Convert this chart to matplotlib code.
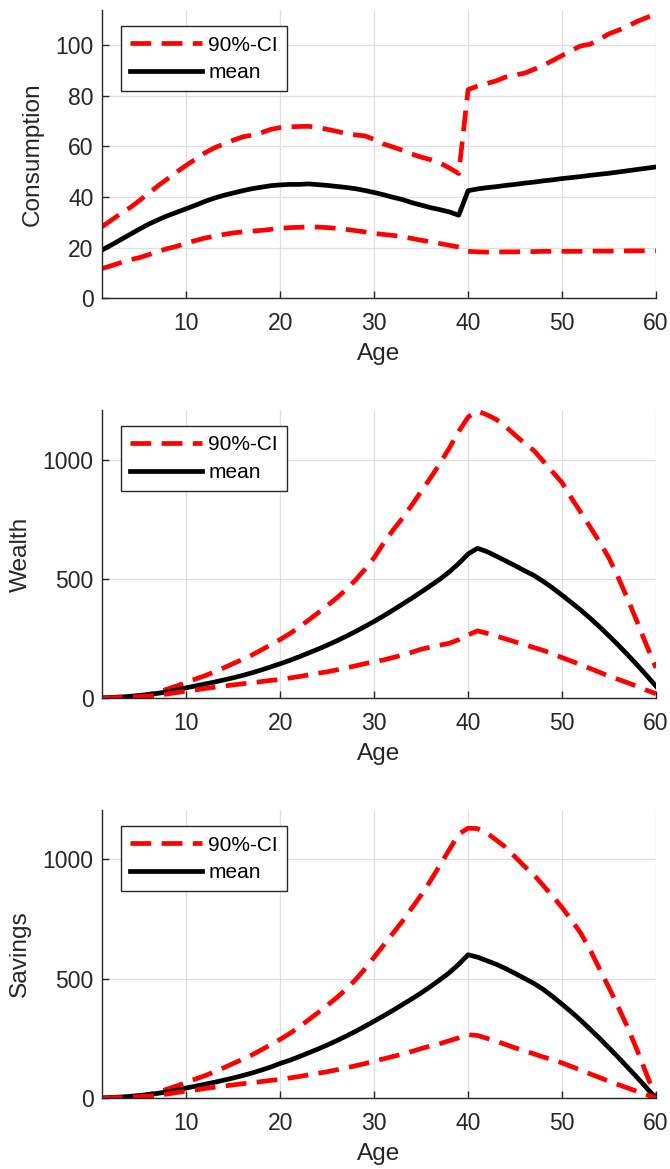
import numpy as np
import matplotlib
matplotlib.use('Agg')
import matplotlib.pyplot as plt

plt.rcParams['font.family'] = ['Liberation Sans', 'DejaVu Sans']

age = np.arange(1, 61)

# ── consumption ───────────────────────────────────────────────────────────────
cons_mean = [19.0, 21.0, 23.1, 25.2, 27.3, 29.3, 31.0, 32.6, 34.0, 35.4,
             36.8, 38.3, 39.6, 40.7, 41.6, 42.5, 43.3, 43.9, 44.5, 44.8,
             45.0, 45.0, 45.2, 44.9, 44.6, 44.2, 43.8, 43.3, 42.6, 41.8,
             40.9, 39.9, 39.0, 37.8, 36.8, 35.8, 35.0, 34.1, 32.8, 42.5,
             43.2, 43.7, 44.1, 44.6, 45.0, 45.5, 45.9, 46.4, 46.8, 47.3,
             47.7, 48.1, 48.6, 49.0, 49.4, 49.9, 50.4, 50.9, 51.4, 51.9]
cons_hi = [28.2, 30.8, 33.4, 35.8, 38.6, 41.5, 44.5, 47.2, 50.0, 52.6,
           55.0, 57.5, 59.5, 61.0, 62.5, 63.8, 64.5, 65.5, 66.8, 67.5,
           67.8, 67.9, 68.0, 67.5, 66.8, 66.0, 65.2, 64.6, 64.2, 62.8,
           61.0, 59.8, 58.5, 57.0, 55.8, 54.8, 53.5, 51.5, 49.3, 82.5,
           83.9, 84.9, 86.0, 87.5, 88.3, 89.0, 90.5, 92.1, 94.0, 96.0,
           98.0, 99.8, 100.5, 102.5, 104.6, 106.0, 107.6, 109.5, 111.0, 112.5]
cons_lo = [11.7, 12.8, 14.0, 15.2, 16.0, 17.2, 18.5, 19.6, 20.5, 21.8,
           22.8, 23.8, 24.5, 25.2, 25.8, 26.2, 26.5, 26.8, 27.2, 27.6,
           27.9, 28.0, 28.2, 28.1, 27.9, 27.6, 27.2, 26.7, 26.2, 25.6,
           25.2, 24.8, 24.3, 23.6, 22.9, 22.3, 21.6, 20.9, 20.2, 18.5,
           18.3, 18.2, 18.2, 18.3, 18.3, 18.4, 18.4, 18.5, 18.5, 18.5,
           18.5, 18.5, 18.6, 18.6, 18.6, 18.6, 18.7, 18.7, 18.7, 18.7]

# ── wealth ────────────────────────────────────────────────────────────────────
wealth_mean = [0, 2, 4, 7, 11, 15, 20, 26, 34, 43,
               51, 59, 67, 76, 85, 95, 106, 118, 131, 144,
               158, 173, 189, 205, 222, 240, 259, 279, 300, 322,
               345, 369, 394, 419, 445, 472, 499, 530, 565, 605,
               629, 615, 596, 576, 556, 535, 515, 490, 462, 432,
               401, 369, 335, 299, 261, 222, 181, 139, 95, 50]
wealth_hi = [0, 2, 4, 6, 8, 14, 25, 38, 51, 66,
             80, 94, 110, 127, 145, 162, 181, 202, 224, 246,
             270, 297, 327, 357, 388, 420, 455, 495, 540, 590,
             650, 705, 755, 810, 868, 925, 985, 1050, 1120, 1180,
             1205, 1190, 1170, 1140, 1105, 1070, 1040, 995, 950, 905,
             840, 780, 718, 655, 588, 505, 415, 320, 222, 127]
wealth_lo = [0, 1, 2, 4, 6, 8, 12, 17, 23, 29,
             34, 40, 45, 50, 55, 60, 64, 69, 74, 78,
             84, 90, 97, 104, 110, 118, 126, 135, 144, 152,
             160, 170, 180, 192, 205, 214, 222, 230, 245, 265,
             282, 272, 260, 248, 236, 224, 212, 200, 185, 170,
             155, 140, 124, 108, 92, 78, 64, 49, 33, 18]

# ── savings ───────────────────────────────────────────────────────────────────
sav_mean = [0, 2, 4, 7, 11, 15, 20, 26, 33, 42,
            50, 58, 66, 75, 84, 94, 105, 117, 130, 145,
            158, 173, 189, 205, 222, 240, 259, 279, 300, 322,
            344, 367, 391, 415, 440, 467, 495, 525, 560, 600,
            590, 575, 560, 542, 522, 501, 480, 455, 425, 393,
            360, 325, 288, 250, 210, 170, 128, 86, 43, 0]
sav_hi = [0, 2, 4, 6, 8, 14, 25, 38, 51, 66,
          80, 94, 110, 127, 145, 162, 181, 202, 224, 246,
          270, 297, 327, 357, 388, 420, 455, 495, 540, 590,
          640, 690, 740, 795, 850, 910, 975, 1040, 1105, 1130,
          1128, 1110, 1080, 1050, 1010, 970, 935, 890, 845, 798,
          745, 690, 620, 540, 462, 380, 295, 200, 100, 0]
sav_lo = [0, 1, 2, 4, 6, 8, 12, 17, 23, 29,
          34, 40, 45, 50, 55, 60, 64, 69, 74, 78,
          84, 90, 97, 104, 110, 118, 126, 135, 144, 155,
          164, 174, 184, 195, 207, 218, 228, 240, 252, 265,
          262, 250, 238, 224, 210, 198, 185, 172, 160, 147,
          132, 117, 101, 86, 70, 56, 42, 28, 14, 0]

PANELS = [('Consumption', cons_mean, cons_lo, cons_hi, (0, 114), [0, 20, 40, 60, 80, 100]),
          ('Wealth', wealth_mean, wealth_lo, wealth_hi, (0, 1210), [0, 500, 1000]),
          ('Savings', sav_mean, sav_lo, sav_hi, (0, 1206), [0, 500, 1000])]

GREY = '#262626'
fig = plt.figure(figsize=(6.7, 11.69), dpi=100)
tops = [0.9914, 0.6493, 0.3071]
height = 0.2464

for (ylabel, mean, lo, hi, ylim, yticks), top in zip(PANELS, tops):
    ax = fig.add_axes([0.152, top - height, 0.827, height])
    ax.plot(age, hi, color='#ff0000', lw=3.4, dashes=(4.4, 2.2), label='90%-CI')
    ax.plot(age, mean, color='black', lw=3.4, label='mean')
    ax.plot(age, lo, color='#ff0000', lw=3.4, dashes=(4.4, 2.2))

    ax.set_xlim(1, 60)
    ax.set_ylim(*ylim)
    ax.set_xticks([10, 20, 30, 40, 50, 60])
    ax.set_yticks(yticks)
    ax.grid(True, color='#dfdfdf', lw=0.9)
    ax.set_axisbelow(True)
    for side in ('top', 'right'):
        ax.spines[side].set_visible(False)
    for side in ('left', 'bottom'):
        ax.spines[side].set_color(GREY)
        ax.spines[side].set_linewidth(1.0)
    ax.tick_params(direction='in', length=5, width=1.0, colors=GREY,
                   labelsize=16.5)
    ax.tick_params(axis='x', pad=10)
    ax.tick_params(axis='y', pad=6)
    ax.set_xlabel('Age', fontsize=17.6, color=GREY, labelpad=6)
    ax.set_ylabel(ylabel, fontsize=17.6, color=GREY, labelpad=8)

    leg = ax.legend(loc='upper left', bbox_to_anchor=(0.034, 0.944),
                    borderaxespad=0, fontsize=15, handlelength=3.45,
                    handletextpad=0.3, labelspacing=0.4, borderpad=0.45,
                    fancybox=False, framealpha=1)
    leg.get_frame().set_edgecolor(GREY)
    leg.get_frame().set_linewidth(1.0)
    for t in leg.get_texts():
        t.set_color('black')

fig.savefig('out.png', dpi=100, facecolor='white')
